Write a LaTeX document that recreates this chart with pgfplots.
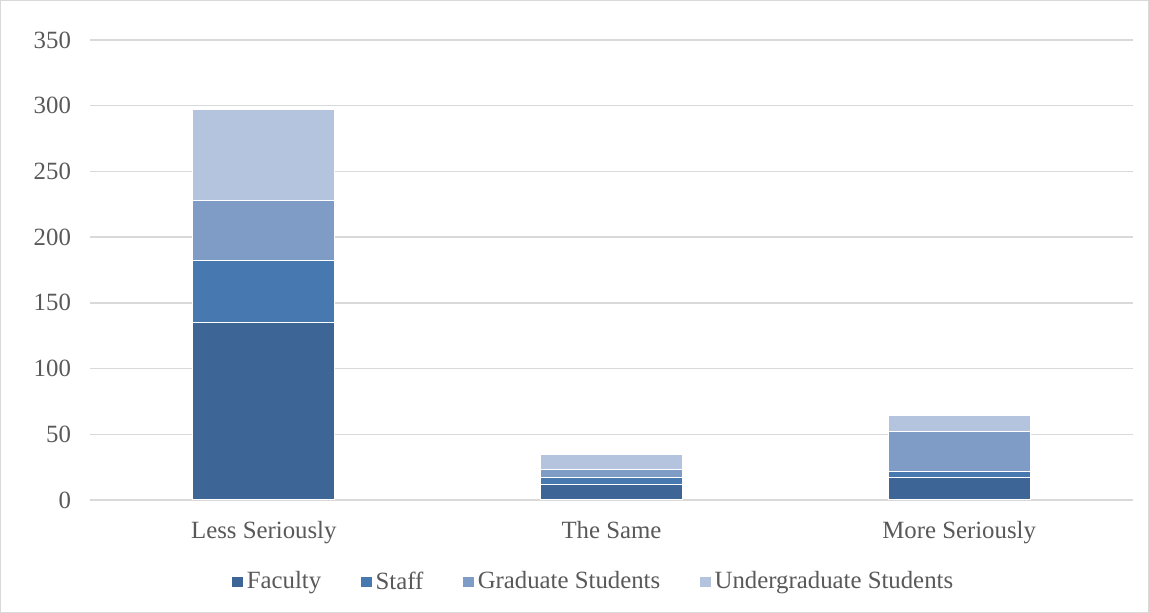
\documentclass[border=0pt]{standalone}
\usepackage{pgfplots}
\pgfplotsset{compat=1.18}
\usepackage{fontspec}
\setmainfont{Liberation Serif}
\definecolor{cFac}{HTML}{3D6596}
\definecolor{cSta}{HTML}{4878B0}
\definecolor{cGra}{HTML}{7F9CC7}
\definecolor{cUnd}{HTML}{B4C3DE}
\definecolor{txt}{HTML}{595959}
\definecolor{grd}{HTML}{D9D9D9}
\begin{document}
\begin{tikzpicture}
\path[use as bounding box, draw=grd, line width=0.6pt] (0.3pt,0.3pt) rectangle (574.2pt,306.2pt);
\begin{axis}[
  at={(45pt,56.5pt)}, anchor=south west,
  scale only axis, width=521.5pt, height=230pt,
  ybar stacked, bar width=71pt,
  xmin=-0.5, xmax=2.5, ymin=0, ymax=350,
  ytick={0,50,...,350},
  xtick={0,1,2},
  xticklabels={Less Seriously, The Same, More Seriously},
  ymajorgrids, grid style={grd, line width=0.7pt},
  axis x line*=bottom, axis y line*=left,
  x axis line style={grd, line width=0.8pt},
  y axis line style={draw=none},
  major tick length=0pt,
  tick label style={font=\fontsize{12.4}{14}\selectfont, text=txt},
  yticklabel style={xshift=-6pt},
  xticklabel style={yshift=-7pt},
  /pgf/number format/assume math mode=true,
  every axis plot/.append style={draw=white, line width=0.6pt},
  legend columns=4,
  legend style={draw=none, at={(0.484,-0.178)}, anchor=center,
    font=\fontsize{12.4}{14}\selectfont, text=txt,
    /tikz/every even column/.append style={column sep=18pt}},
  legend image code/.code={\fill[#1, draw=none] (0pt,-2.6pt) rectangle (5.2pt,2.6pt);},
]
\addplot[fill=cFac] coordinates {(0,135) (1,12) (2,17)};
\addplot[fill=cSta] coordinates {(0,47) (1,5) (2,4.5)};
\addplot[fill=cGra] coordinates {(0,46) (1,6) (2,30.5)};
\addplot[fill=cUnd] coordinates {(0,69) (1,12) (2,12)};
\legend{Faculty, Staff, Graduate Students, Undergraduate Students}
\end{axis}
\end{tikzpicture}
\end{document}
